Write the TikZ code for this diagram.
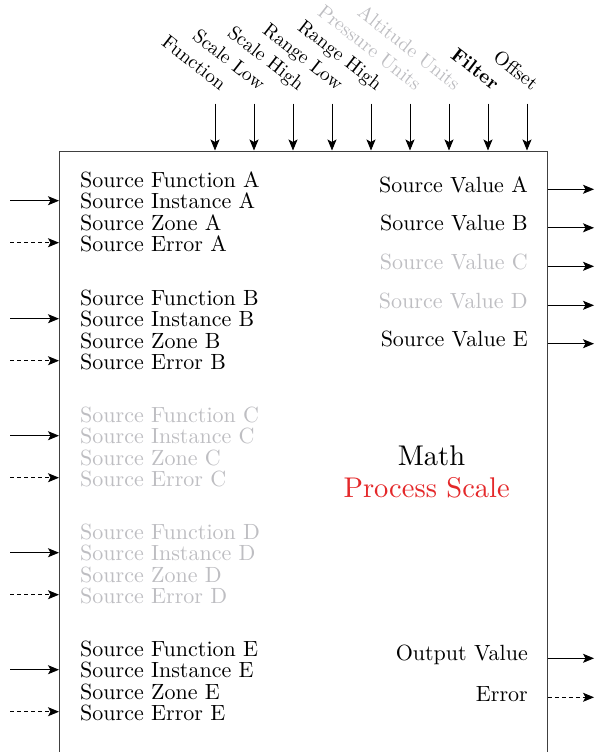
\documentclass[tikz,border=0pt]{standalone}
\usepackage{fontspec}
\setmainfont{lmroman10-regular.otf}[BoldFont=lmroman10-bold.otf]
\usetikzlibrary{arrows.meta}
\definecolor{offgray}{RGB}{190,190,194}
\definecolor{procred}{RGB}{228,40,42}
\tikzset{
  sig/.style={draw=black, line width=0.9pt, -{Stealth[length=11pt,width=9pt,inset=2.5pt]}},
  errsig/.style={sig, dash pattern=on 4pt off 3pt},
  lbl/.style={inner sep=0pt, anchor=base west, font=\fontsize{22}{24}\selectfont},
  outlbl/.style={inner sep=0pt, anchor=base east, font=\fontsize{22}{24}\selectfont},
  toplbl/.style={inner sep=0pt, anchor=base east, rotate=-38, font=\fontsize{19.5}{22}\selectfont}
}
\begin{document}
\begin{tikzpicture}[x=1pt,y=-1pt]
  \useasboundingbox (0,0) rectangle (601,752);
  \clip (0,0) rectangle (601,752);

% block
  \node[draw=black!75, line width=0.9pt, minimum width=488pt, minimum height=650pt,
        anchor=north west, inner sep=0pt] (blk) at (59,150.5) {};

% top inputs
  \foreach \x/\t/\c [count=\i] in {215/Function/black, 254/Scale Low/black,
      293/Scale High/black, 332/Range Low/black, 371/Range High/black,
      410/Pressure Units/offgray, 449/Altitude Units/offgray,
      488/\textbf{Filter}/black, 527/Offset/black} {
    \node[toplbl, text=\c] (top\i) at (\x+5,91) {\t};
    \coordinate (ta\i) at (\x,103.5);
    \draw[sig] (ta\i) -- (ta\i |- blk.north);
  }

% source groups
  \foreach \g/\y/\c in {A/187/black, B/305/black, C/422/offgray, D/539/offgray, E/656/black} {
    \node[lbl, text=\c] (fn\g) at (80,\y) {Source Function \g};
    \node[lbl, text=\c] (inst\g) at (80,\y+21.6) {Source Instance \g};
    \node[lbl, text=\c] (zone\g) at (80,\y+43.2) {Source Zone \g};
    \node[lbl, text=\c] (err\g) at (80,\y+64.8) {Source Error \g};
    \coordinate (srcin\g) at (10,\y+13.7);
    \coordinate (srcerr\g) at (10,\y+55.7);
    \draw[sig] (srcin\g) -- (srcin\g -| blk.west);
    \draw[errsig] (srcerr\g) -- (srcerr\g -| blk.west);
  }

% source values
  \foreach \g/\y/\c in {A/192.3/black, B/230.8/black, C/269.3/offgray, D/308.3/offgray, E/346.7/black} {
    \node[outlbl, text=\c] (val\g) at (528,\y) {Source Value \g};
    \coordinate (valout\g) at (594,\y-3);
    \draw[sig] (valout\g -| blk.east) -- (valout\g);
  }

% outputs
  \node[outlbl] (outval) at (528,660.7) {Output Value};
  \node[outlbl] (outerr) at (528,701.7) {Error};
  \coordinate (outvalend) at (594,658.3);
  \coordinate (outerrend) at (594,697.3);
  \draw[sig] (outvalend -| blk.east) -- (outvalend);
  \draw[errsig] (outerrend -| blk.east) -- (outerrend);

% block title
  \node[inner sep=0pt, anchor=base, font=\fontsize{28.5}{30}\selectfont] (ttl) at (431.5,465) {Math};
  \node[inner sep=0pt, anchor=base, text=procred, font=\fontsize{28.5}{30}\selectfont] (sub) at (426.7,497) {Process Scale};
\end{tikzpicture}
\end{document}
